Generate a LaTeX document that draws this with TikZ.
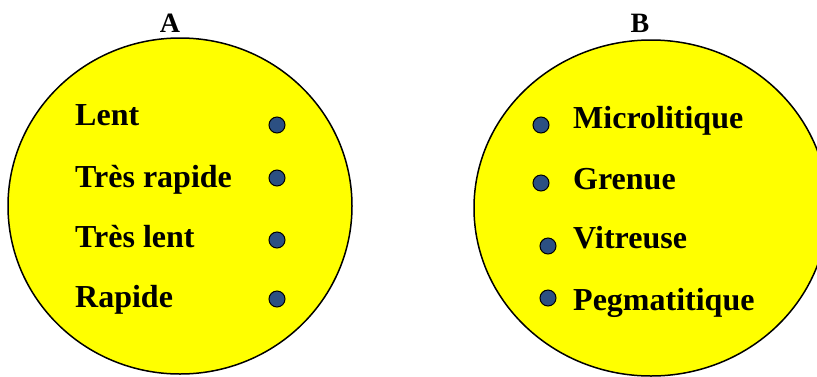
\documentclass[tikz,border=0pt]{standalone}
\usepackage{fontspec}
\setmainfont{Liberation Serif}
\definecolor{dotblue}{RGB}{44,80,130}
\definecolor{ovalyellow}{RGB}{255,255,0}
\begin{document}
\begin{tikzpicture}[x=1pt,y=-1pt,
  oval/.style={draw=black,line width=1.5pt,fill=ovalyellow},
  word/.style={anchor=base west,inner sep=0pt,font=\fontsize{32}{36}\selectfont\bfseries},
  title/.style={anchor=base,inner sep=0pt,font=\fontsize{28}{32}\selectfont\bfseries},
  dotmark/.style={circle,draw=black,line width=1pt,fill=dotblue,minimum size=16pt,inner sep=0pt}]
\useasboundingbox (0,0) rectangle (817,376);
\draw[oval] (180,206) ellipse [x radius=172, y radius=168];
\draw[oval] (651,208) ellipse [x radius=177, y radius=168];
\node[title] (ta) at (170,32) {A};
\node[title] (tb) at (640,32) {B};
% A
\node[word] (a1) at (75,125) {Lent};
\node[word] (a2) at (75,187) {Très rapide};
\node[word] (a3) at (75,247) {Très lent};
\node[word] (a4) at (75,307) {Rapide};
\node[dotmark] (da1) at (277,125) {};
\node[dotmark] (da2) at (277,178) {};
\node[dotmark] (da3) at (277,240) {};
\node[dotmark] (da4) at (277,299) {};
% B
\node[word] (b1) at (573,128) {Microlitique};
\node[word] (b2) at (573,189) {Grenue};
\node[word] (b3) at (573,248) {Vitreuse};
\node[word] (b4) at (573,310) {Pegmatitique};
\node[dotmark] (db1) at (541,125) {};
\node[dotmark] (db2) at (541,183) {};
\node[dotmark] (db3) at (548,246) {};
\node[dotmark] (db4) at (548,298) {};
\end{tikzpicture}
\end{document}
